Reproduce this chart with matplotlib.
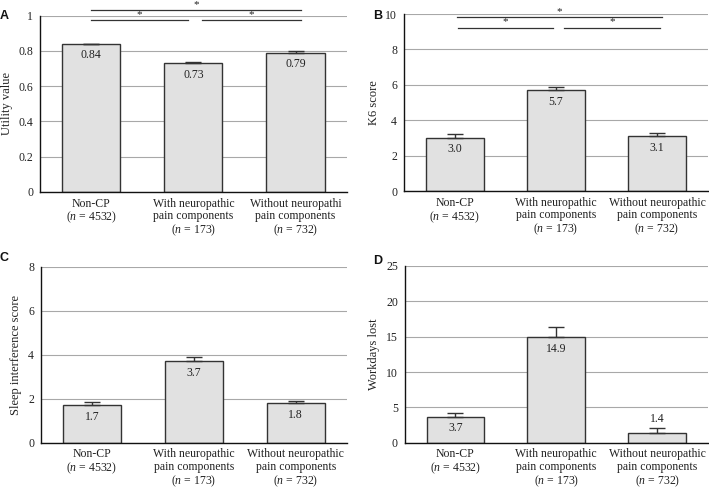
import matplotlib
matplotlib.use("Agg")
import matplotlib.pyplot as plt
from matplotlib.ticker import FuncFormatter

plt.rcParams["font.family"] = ["Liberation Serif", "DejaVu Serif"]
plt.rcParams["mathtext.fontset"] = "custom"
plt.rcParams["mathtext.rm"] = "Liberation Serif"
plt.rcParams["mathtext.it"] = "Liberation Serif:italic"

# --- Data ---
groups = ["Non-CP", "With neuropathic\npain components", "Without neuropathic\npain components"]
group_n = [4532, 173, 732]

utility = [0.84, 0.73, 0.79]
utility_err = [0.0, 0.01, 0.008]

k6 = [3.0, 5.7, 3.1]
k6_err = [0.2, 0.16, 0.2]

sleep = [1.7, 3.7, 1.8]
sleep_err = [0.14, 0.2, 0.1]

workdays = [3.7, 14.9, 1.4]
workdays_err = [0.55, 1.4, 0.7]

# significance brackets: (start, end, level as fraction of y max)
brackets = [(0.0, 0.95, 0.975), (1.08, 2.05, 0.975), (0.0, 2.05, 1.03)]
brackets_b = [(0.03, 0.97, 0.923), (1.08, 2.03, 0.923), (0.02, 2.05, 0.983)]

BAR = "#e1e1e1"
EDGE = "#333333"
GRID = "#a8a8a8"
TXT = "#222222"


def cat_labels(third):
    labels = []
    for g, n in zip(groups, group_n):
        if g.startswith("Without"):
            g = third
        labels.append(f"{g}\n($\\mathit{{n}}$ = {n})")
    return labels


def plot_panel(ax, vals, errs, ylabel, ymax, step, third, above=()):
    x = range(len(vals))
    ax.set_axisbelow(True)
    ax.bar(x, vals, width=0.57, color=BAR, edgecolor=EDGE, linewidth=1.0, zorder=2)
    ax.errorbar(x, vals, yerr=[[0] * len(errs), errs], fmt="none", ecolor=EDGE,
                elinewidth=1.0, capsize=6, capthick=1.0, zorder=3)
    fmt = "{:.1f}" if ymax > 1 else "{:.2f}"
    for i, (v, e) in enumerate(zip(vals, errs)):
        if i in above:
            ax.annotate(fmt.format(v), (i, v + e), xytext=(0, 2), textcoords="offset points",
                        ha="center", va="bottom", fontsize=8.5, color=TXT)
        else:
            ax.annotate(fmt.format(v), (i, v), xytext=(0, -4), textcoords="offset points",
                        ha="center", va="top", fontsize=8.5, color=TXT)
    ax.set_xlim(-0.5, 2.5)
    ax.set_ylim(0, ymax)
    ticks = [step * k for k in range(int(round(ymax / step)) + 1)]
    ax.set_yticks(ticks)
    ax.yaxis.set_major_formatter(FuncFormatter(lambda v, p: f"{v:g}"))
    ax.yaxis.grid(True, color=GRID, linewidth=0.8)
    ax.set_xticks(list(x))
    ax.set_xticklabels(cat_labels(third), color=TXT, linespacing=1.05)
    ax.tick_params(axis="both", length=0, labelsize=8.5, colors=TXT)
    ax.tick_params(axis="y", pad=5)
    ax.tick_params(axis="x", pad=4)
    ax.set_ylabel(ylabel, fontsize=9, color=TXT)
    for s in ("top", "right"):
        ax.spines[s].set_visible(False)
    for s in ("left", "bottom"):
        ax.spines[s].set_color("#111111")
        ax.spines[s].set_linewidth(1.0)


def draw_brackets(ax, ymax, spec):
    for x0, x1, lvl in spec:
        y = lvl * ymax
        ax.plot([x0, x1], [y, y], color=EDGE, linewidth=0.9, clip_on=False, zorder=4)
        ax.annotate("*", ((x0 + x1) / 2, y), xytext=(0, 1), textcoords="offset points",
                    ha="center", va="bottom", fontsize=8, color=TXT, annotation_clip=False)


fig = plt.figure(figsize=(7.09, 4.88), dpi=100)
axA = fig.add_axes([0.0564, 0.6066, 0.4326, 0.3612])
axB = fig.add_axes([0.570, 0.6086, 0.428, 0.3627])
axC = fig.add_axes([0.0578, 0.0928, 0.4312, 0.3607])
axD = fig.add_axes([0.571, 0.0928, 0.427, 0.3622])

plot_panel(axA, utility, utility_err, "Utility value", 1.0, 0.2, "Without neuropathi\npain components")
plot_panel(axB, k6, k6_err, "K6 score", 10, 2, "Without neuropathic\npain components")
plot_panel(axC, sleep, sleep_err, "Sleep interference score", 8, 2, "Without neuropathic\npain components")
plot_panel(axD, workdays, workdays_err, "Workdays lost", 25, 5, "Without neuropathic\npain components",
           above=(2,))

draw_brackets(axA, 1.0, brackets)
draw_brackets(axB, 10, brackets_b)

for lab, (px, py) in zip("ABCD", [(4, 16), (378, 16), (4, 258), (378, 261)]):
    fig.text(px / 709, 1 - py / 488, lab, fontsize=9, fontweight="bold",
             family="Liberation Sans", ha="center", va="center", color="#111111")

fig.savefig("out.png", dpi=100)
